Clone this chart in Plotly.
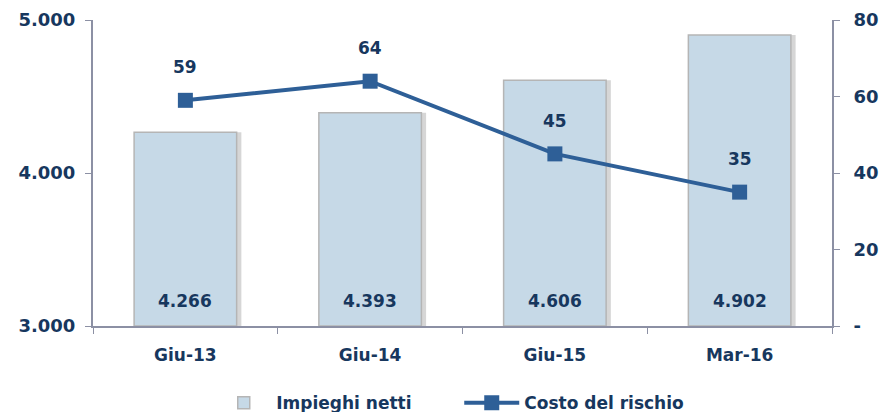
import plotly.graph_objects as go

categories = ["Giu-13", "Giu-14", "Giu-15", "Mar-16"]
impieghi_netti = [4266, 4393, 4606, 4902]
costo_rischio = [59, 64, 45, 35]

left_ticks = [3000, 4000, 5000]
left_tick_labels = ["3.000", "4.000", "5.000"]
right_ticks = [0, 20, 40, 60, 80]
right_tick_labels = ["-", "20", "40", "60", "80"]

NAVY = "#17375E"
LINE = "#2E5F97"
BAR_FILL = "#C6D9E7"
BAR_EDGE = "#B5B5B5"
AXIS = "#8C90A4"
FONT = "DejaVu Sans"
BASE = 3000


def fmt_it(v):
    return f"{v:,}".replace(",", ".")


fig = go.Figure()

# Soft drop shadow behind each bar
fig.add_trace(go.Bar(
    x=categories, y=[v - BASE for v in impieghi_netti], base=BASE,
    width=0.555, offset=-0.252,
    marker=dict(color="rgba(120,120,120,0.30)", line=dict(width=0)),
    hoverinfo="skip", showlegend=False,
))

fig.add_trace(go.Bar(
    x=categories, y=[v - BASE for v in impieghi_netti], base=BASE,
    width=0.555, offset=-0.2775,
    name="Impieghi netti",
    marker=dict(color=BAR_FILL, line=dict(color=BAR_EDGE, width=1.5)),
    customdata=impieghi_netti,
    hovertemplate="%{x}: %{customdata}<extra></extra>",
))

fig.add_trace(go.Scatter(
    x=categories, y=costo_rischio, yaxis="y2",
    name="Costo del rischio",
    mode="lines+markers",
    line=dict(color=LINE, width=4),
    marker=dict(symbol="square", size=15, color=LINE),
))

label_font = dict(family=FONT, size=17, color=NAVY, weight="bold")

# Value labels near the foot of each bar
for c, v in zip(categories, impieghi_netti):
    fig.add_annotation(x=c, y=BASE, xref="x", yref="y", text=fmt_it(v),
                       showarrow=False, yshift=25, font=label_font)

# Value labels above the line markers
for c, v in zip(categories, costo_rischio):
    fig.add_annotation(x=c, y=v, xref="x", yref="y2", text=str(v),
                       showarrow=False, yshift=33, font=label_font)

fig.update_layout(
    width=887, height=412,
    margin=dict(l=93, r=55, t=20, b=86, autoexpand=False),
    paper_bgcolor="white", plot_bgcolor="white",
    barmode="overlay",
    font=dict(family=FONT, color=NAVY, size=15),
    showlegend=True,
    legend=dict(
        orientation="h", x=0.16, xanchor="left", y=-0.252, yanchor="middle",
        font=dict(family=FONT, size=17, color=NAVY, weight="bold"),
        traceorder="normal", itemwidth=55,
        entrywidth=178, entrywidthmode="pixels",
    ),
    xaxis=dict(
        showline=True, linecolor=AXIS, linewidth=2,
        ticks="outside", tickson="boundaries", ticklen=6, tickcolor=AXIS,
        ticklabelstandoff=13,
        tickfont=dict(family=FONT, size=17, color=NAVY, weight="bold"),
        showgrid=False,
    ),
    yaxis=dict(
        range=[3000, 5000], tickvals=left_ticks, ticktext=left_tick_labels,
        showline=True, linecolor=AXIS, linewidth=2,
        ticks="outside", ticklen=6, tickcolor=AXIS, ticklabelstandoff=6,
        tickfont=dict(family=FONT, size=18, color=NAVY, weight="bold"),
        showgrid=False, zeroline=False,
    ),
    yaxis2=dict(
        overlaying="y", side="right",
        range=[0, 80], tickvals=right_ticks, ticktext=right_tick_labels,
        showline=True, linecolor=AXIS, linewidth=2,
        ticks="outside", ticklen=6, tickcolor=AXIS, ticklabelstandoff=10,
        tickfont=dict(family=FONT, size=18, color=NAVY, weight="bold"),
        showgrid=False, zeroline=False,
    ),
)

fig.write_html("out.html")
